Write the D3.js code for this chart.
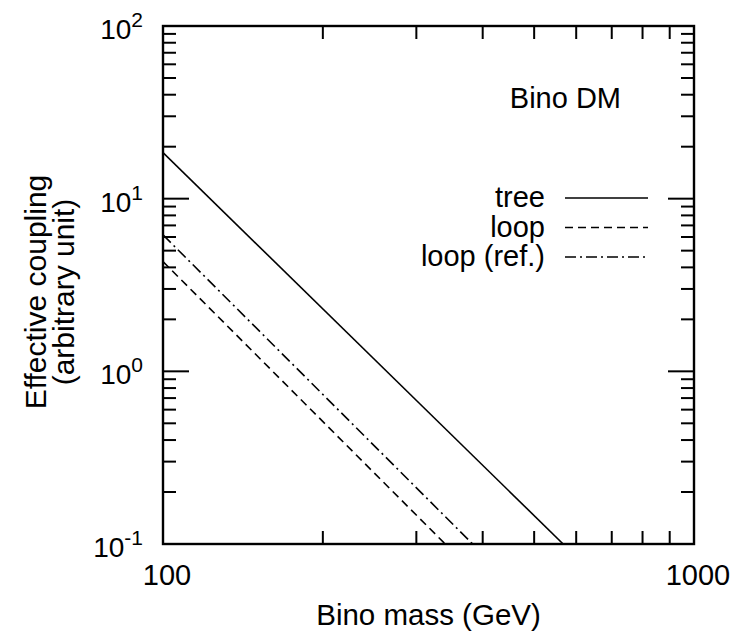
<!DOCTYPE html>
<html>
<head>
<meta charset="utf-8">
<script src="https://cdn.jsdelivr.net/npm/d3@7"></script>
<style>
  body { margin: 0; background: #fff; }
  text { font-family: "Liberation Sans", Arial, Helvetica, sans-serif; fill: #000; }
</style>
</head>
<body>
<svg id="chart" width="733" height="637"></svg>
<script>
// data (straight lines in log-log, so end points are enough)
var treeMass = [100, 567],
    treeCoupling = [18.5, 0.1];
var loopMass = [100, 340],
    loopCoupling = [4.32, 0.1];
var refMass = [100, 383],
    refCoupling = [6.17, 0.1];

var xTickValues = [100, 1000],
    xTickLabels = ["100", "1000"];
var yTickValues = [0.1, 1, 10, 100],
    yTickExponents = ["-1", "0", "1", "2"];

var legendNames = ["tree", "loop", "loop (ref.)"];

// canvas
var svg = d3.select("#chart"),
    margin = {top: 26, right: 39, bottom: 93, left: 163},
    width = 733 - margin.left - margin.right,
    height = 637 - margin.top - margin.bottom;

var x = d3.scaleLog().domain([100, 1000]).range([0, width]),
    y = d3.scaleLog().domain([0.1, 100]).range([height, 0]);

var g = svg.append("g")
    .attr("transform", "translate(" + margin.left + "," + margin.top + ")");

g.append("clipPath").attr("id", "clip")
  .append("rect").attr("width", width).attr("height", height);

// minor ticks
var xMinor = [], yMinor = [];
for (var k = 2; k <= 9; k++) xMinor.push(k * 100);
[0.1, 1, 10].forEach(function(d) {
  for (var k = 2; k <= 9; k++) yMinor.push(d * k);
});

var major = 26, minor = 13;
var ticks = g.append("g").attr("stroke", "#000").attr("stroke-width", 2);

xMinor.forEach(function(v) {
  ticks.append("line").attr("x1", x(v)).attr("x2", x(v)).attr("y1", height).attr("y2", height - minor);
  ticks.append("line").attr("x1", x(v)).attr("x2", x(v)).attr("y1", 0).attr("y2", minor);
});
yMinor.forEach(function(v) {
  ticks.append("line").attr("x1", 0).attr("x2", minor).attr("y1", y(v)).attr("y2", y(v));
  ticks.append("line").attr("x1", width).attr("x2", width - minor).attr("y1", y(v)).attr("y2", y(v));
});
yTickValues.forEach(function(v) {
  ticks.append("line").attr("x1", 0).attr("x2", major).attr("y1", y(v)).attr("y2", y(v));
  ticks.append("line").attr("x1", width).attr("x2", width - major).attr("y1", y(v)).attr("y2", y(v));
});

// data lines
var line = d3.line()
    .x(function(d) { return x(d[0]); })
    .y(function(d) { return y(d[1]); });

var series = [
  {name: legendNames[0], pts: d3.zip(treeMass, treeCoupling), dash: null},
  {name: legendNames[1], pts: d3.zip(loopMass, loopCoupling), dash: "8,5"},
  {name: legendNames[2], pts: d3.zip(refMass, refCoupling), dash: "11,4,2,4"}
];

g.append("g").attr("clip-path", "url(#clip)")
  .selectAll("path").data(series).enter().append("path")
    .attr("d", function(d) { return line(d.pts); })
    .attr("fill", "none")
    .attr("stroke", "#000")
    .attr("stroke-width", 1.6)
    .attr("stroke-dasharray", function(d) { return d.dash; });

// frame
g.append("rect")
    .attr("width", width).attr("height", height)
    .attr("fill", "none").attr("stroke", "#000").attr("stroke-width", 2.4);

// x tick labels
g.selectAll(".xlab").data(xTickValues).enter().append("text")
    .attr("class", "xlab")
    .attr("x", function(d) { return x(d) + 4; })
    .attr("y", height + 41)
    .attr("text-anchor", "middle")
    .style("font-size", "29px")
    .text(function(d, i) { return xTickLabels[i]; });

// y tick labels: 10^n
var ylab = g.selectAll(".ylab").data(yTickValues).enter().append("text")
    .attr("class", "ylab")
    .attr("x", -20)
    .attr("y", function(d) { return y(d) + 13; })
    .attr("text-anchor", "end")
    .style("font-size", "28px");
ylab.append("tspan").text("10");
ylab.append("tspan")
    .attr("dy", -12)
    .style("font-size", "21px")
    .text(function(d, i) { return yTickExponents[i]; });

// axis titles
svg.append("text")
    .attr("x", margin.left + width / 2)
    .attr("y", 625)
    .attr("text-anchor", "middle")
    .style("font-size", "29.5px")
    .text("Bino mass (GeV)");

var yTitle = svg.append("text")
    .attr("transform", "translate(46,292) rotate(-90)")
    .attr("text-anchor", "middle")
    .style("font-size", "30px");
yTitle.append("tspan").attr("x", 0).attr("y", 0).text("Effective coupling");
yTitle.append("tspan").attr("x", 0).attr("y", 28).text("(arbitrary unit)");

// label inside the plot
svg.append("text")
    .attr("x", 621)
    .attr("y", 108)
    .attr("text-anchor", "end")
    .style("font-size", "29px")
    .text("Bino DM");

// legend
var legend = svg.append("g").selectAll("g").data(series).enter().append("g")
    .attr("transform", function(d, i) { return "translate(0," + (207 + i * 29.5) + ")"; });
legend.append("text")
    .attr("x", 545)
    .attr("text-anchor", "end")
    .style("font-size", "29px")
    .text(function(d) { return d.name; });
legend.append("line")
    .attr("x1", 565).attr("x2", 648)
    .attr("y1", -9).attr("y2", -9)
    .attr("stroke", "#000")
    .attr("stroke-width", 1.6)
    .attr("stroke-dasharray", function(d) { return d.dash; });
</script>
</body>
</html>
